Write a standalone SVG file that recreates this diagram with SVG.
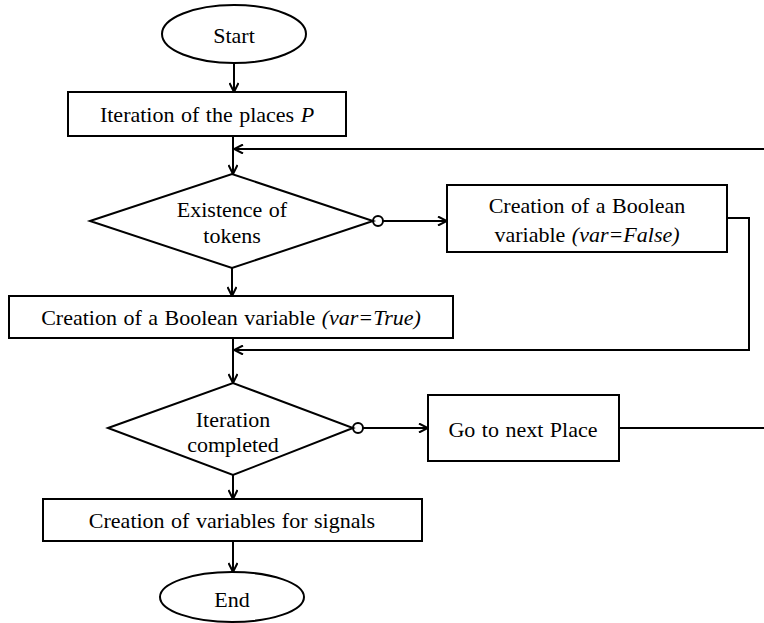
<svg xmlns="http://www.w3.org/2000/svg" width="764" height="623" viewBox="0 0 764 623">
<style>
.s{fill:#fff;stroke:#000;stroke-width:2}
.c{fill:none;stroke:#000;stroke-width:2}
text{font-family:"Liberation Serif","Times New Roman",serif;font-size:22px;fill:#000;text-anchor:middle;word-spacing:1px}
.i{font-style:italic}
</style>
<defs>
<marker id="a" viewBox="0 0 10 10" refX="10" refY="5" markerWidth="10" markerHeight="10" markerUnits="userSpaceOnUse" orient="auto">
<path d="M1,0.5 L10,5 L1,9.5" fill="none" stroke="#000" stroke-width="2"/>
</marker>
</defs>
<g id="connectors">
<path class="c" d="M234,63 V92" marker-end="url(#a)"/>
<path class="c" d="M233,136 V174" marker-end="url(#a)"/>
<path class="c" d="M764,149 H234" marker-end="url(#a)"/>
<path class="c" d="M383,221 H447" marker-end="url(#a)"/>
<path class="c" d="M232,268 V296" marker-end="url(#a)"/>
<path class="c" d="M727,218 H749 V350 H234" marker-end="url(#a)"/>
<path class="c" d="M233,338 V383" marker-end="url(#a)"/>
<path class="c" d="M363,428 H428" marker-end="url(#a)"/>
<path class="c" d="M619,428 H764"/>
<path class="c" d="M233,475 V499" marker-end="url(#a)"/>
<path class="c" d="M233,541 V572" marker-end="url(#a)"/>
<circle class="s" cx="378" cy="221" r="5"/>
<circle class="s" cx="358" cy="428" r="5"/>
</g>
<g id="start">
<ellipse class="s" cx="234" cy="34" rx="72" ry="29"/>
<text x="234" y="43">Start</text>
</g>
<g id="iter-places">
<rect class="s" x="68" y="92" width="278" height="44"/>
<text x="207" y="122">Iteration of the places <tspan class="i">P</tspan></text>
</g>
<g id="existence">
<polygon class="s" points="90,221 232,174 373,221 232,268"/>
<text x="232" y="217">Existence of</text>
<text x="232" y="243">tokens</text>
</g>
<g id="bool-false">
<rect class="s" x="447" y="185" width="280" height="67"/>
<text x="587" y="213">Creation of a Boolean</text>
<text x="587" y="242">variable <tspan class="i">(var=False)</tspan></text>
</g>
<g id="bool-true">
<rect class="s" x="9" y="296" width="444" height="42"/>
<text x="231" y="325">Creation of a Boolean variable <tspan class="i">(var=True)</tspan></text>
</g>
<g id="iter-completed">
<polygon class="s" points="108,428 233,383 353,428 233,475"/>
<text x="233" y="427">Iteration</text>
<text x="233" y="452">completed</text>
</g>
<g id="next-place">
<rect class="s" x="428" y="395" width="191" height="66"/>
<text x="523" y="437">Go to next Place</text>
</g>
<g id="signals">
<rect class="s" x="43" y="499" width="379" height="42"/>
<text x="232" y="528">Creation of variables for signals</text>
</g>
<g id="end">
<ellipse class="s" cx="232" cy="597" rx="72" ry="25"/>
<text x="232" y="607">End</text>
</g>
</svg>
